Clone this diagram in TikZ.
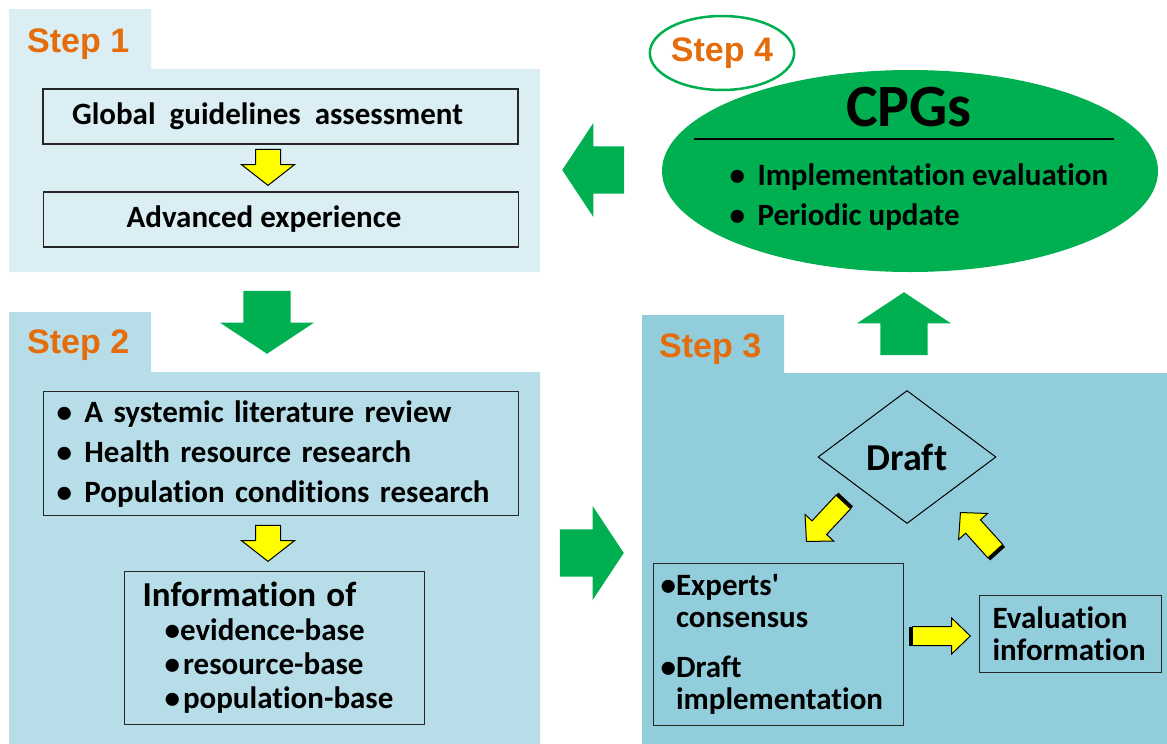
\documentclass[tikz,border=0pt]{standalone}
\usepackage{fontspec}
\setmainfont{Carlito}[Ligatures={TeX,NoCommon}]
\newfontfamily\stepfont{Liberation Sans}
\definecolor{cpgreen}{HTML}{00B050}
\definecolor{steporange}{HTML}{E46C0A}
\definecolor{panelone}{HTML}{DAEEF3}
\definecolor{paneltwo}{HTML}{B7DEE8}
\definecolor{panelthree}{HTML}{92CDDC}
\definecolor{arrowyellow}{HTML}{FFFF00}
\usetikzlibrary{arrows.meta,positioning,shapes.geometric,shapes.arrows,calc}

\begin{document}
\begin{tikzpicture}[x=1pt, y=-1pt,
  steplabel/.style={anchor=base west, inner sep=0, text=steporange, font=\stepfont\bfseries\fontsize{34}{34}\selectfont},
  txtbox/.style={draw=black!85, line width=1.2pt, font=\bfseries\fontsize{31}{32}\selectfont},
  garrow/.style={single arrow, anchor=tip, fill=cpgreen, inner xsep=0, inner ysep=23.5, single arrow head extend=23.5, single arrow tip angle=113},
  yarrow/.style={single arrow, anchor=tip, draw=black, fill=arrowyellow, line width=1pt, inner xsep=0}
]
  \useasboundingbox (0,0) rectangle (1167,744);

  %% Panels
  \fill[panelone] (9,9) -- (151,9) -- (151,69) -- (540,69) -- (540,272) -- (9,272) -- cycle;
  \fill[paneltwo] (9,312) -- (151,312) -- (151,372) -- (540,372) -- (540,744) -- (9,744) -- cycle;
  \fill[panelthree] (642,315) -- (784,315) -- (784,373) -- (1167,373) -- (1167,744) -- (642,744) -- cycle;

  %% Step 1
  \node[steplabel] (s1) at (27,52) {Step 1};
  \node[txtbox, minimum width=475, minimum height=55] (gga) at (280.5,116.5) {Global\ \ guidelines\ \ assessment\hspace*{26pt}};
  \node[yarrow, minimum height=36, inner ysep=12, single arrow head extend=14, single arrow tip angle=104, rotate=-90] (y1) at (268,186) {};
  \node[txtbox, minimum width=475, minimum height=55] (adv) at (281,219.5) {Advanced experience\hspace*{34pt}};

  %% Step 1 -> Step 2
  \node[garrow, minimum height=63, rotate=-90] (g12) at (267,354) {};

  %% Step 2
  \node[steplabel] (s2) at (27,353) {Step 2};
  \node[txtbox, anchor=north west, minimum width=475, minimum height=124, text width=449, inner xsep=13, align=left, font=\bfseries\fontsize{31}{40}\selectfont] (lit) at (43,391) {\textbullet\hspace{0.4em}A systemic literature review\\ \textbullet\hspace{0.4em}Health resource research\\ \textbullet\hspace{0.4em}Population conditions research};
  \node[yarrow, minimum height=36, inner ysep=12, single arrow head extend=14, single arrow tip angle=104, rotate=-90] (y2) at (268,562) {};
  \node[txtbox, anchor=north west, minimum width=300, minimum height=153, text width=264, inner xsep=18, align=left, font=\bfseries\fontsize{31}{34}\selectfont] (info) at (124,571) {{\fontsize{35}{35}\selectfont Information of}\\ \hspace*{22pt}\textbullet evidence-base\\ \hspace*{22pt}\textbullet\hspace{3pt}resource-base\\ \hspace*{22pt}\textbullet\hspace{3pt}population-base};

  %% Step 2 -> Step 3
  \node[garrow, minimum height=64] (g23) at (624,553) {};

  %% Step 3
  \node[steplabel] (s3) at (659,357) {Step 3};
  \node[diamond, draw=black, line width=1pt, minimum width=178, minimum height=133, inner sep=0, font=\bfseries\fontsize{38}{38}\selectfont] (draft) at (907,457) {Draft};
  \node[txtbox, anchor=north west, minimum width=250, minimum height=162, text width=236, inner xsep=7, align=left] (exp) at (653,563) {\textbullet Experts\textquotesingle\\ \phantom{\textbullet}consensus\\[18pt] \textbullet Draft\\ \phantom{\textbullet}implementation};
  \node[txtbox, anchor=north west, minimum width=182, minimum height=77, text width=156, inner xsep=13, align=left] (eval) at (979,595) {Evaluation\\ information};
  \node[yarrow, minimum height=54, inner ysep=9.5, single arrow head extend=9.5, single arrow tip angle=92, rotate=227] (ya) at (806,542) {};
  \node[yarrow, minimum height=52, inner ysep=9.5, single arrow head extend=9.5, single arrow tip angle=92, rotate=132] (yb) at (960,512) {};
  \node[yarrow, minimum height=58, inner ysep=9, single arrow head extend=8.5, single arrow tip angle=88] (yc) at (971,636) {};
  \foreach \a in {ya,yb,yc}
    \draw[line width=3pt, shorten <=0.5pt, shorten >=0.5pt] ($(\a.before tail)!1.5pt!90:(\a.after tail)$) -- ($(\a.after tail)!1.5pt!-90:(\a.before tail)$);

  %% Step 3 -> Step 4
  \node[garrow, minimum height=63, rotate=90] (g34) at (904,292) {};

  %% Step 4: CPGs
  \node[ellipse, fill=cpgreen, minimum width=496, minimum height=202] (cpg) at (910,171) {};
  \node[anchor=base, font=\bfseries\fontsize{60}{60}\selectfont] (cpgt) at (909,126) {CPGs};
  \draw[line width=1.2pt] (694,139) -- (1114,139);
  \node[anchor=west, inner sep=0, align=left, font=\bfseries\fontsize{31}{40}\selectfont] (cpgl) at (729.5,197) {\textbullet\hspace{0.4em}Implementation evaluation\\ \textbullet\hspace{0.4em}Periodic update};
  \node[ellipse, draw=cpgreen, fill=white, line width=2.5pt, minimum width=130, minimum height=74, inner sep=0, text=steporange, font=\stepfont\bfseries\fontsize{34}{34}\selectfont] (s4) at (722,53) {Step 4};

  %% Step 4 -> Step 1
  \node[garrow, minimum height=62, rotate=180] (g41) at (562,170) {};
\end{tikzpicture}
\end{document}
